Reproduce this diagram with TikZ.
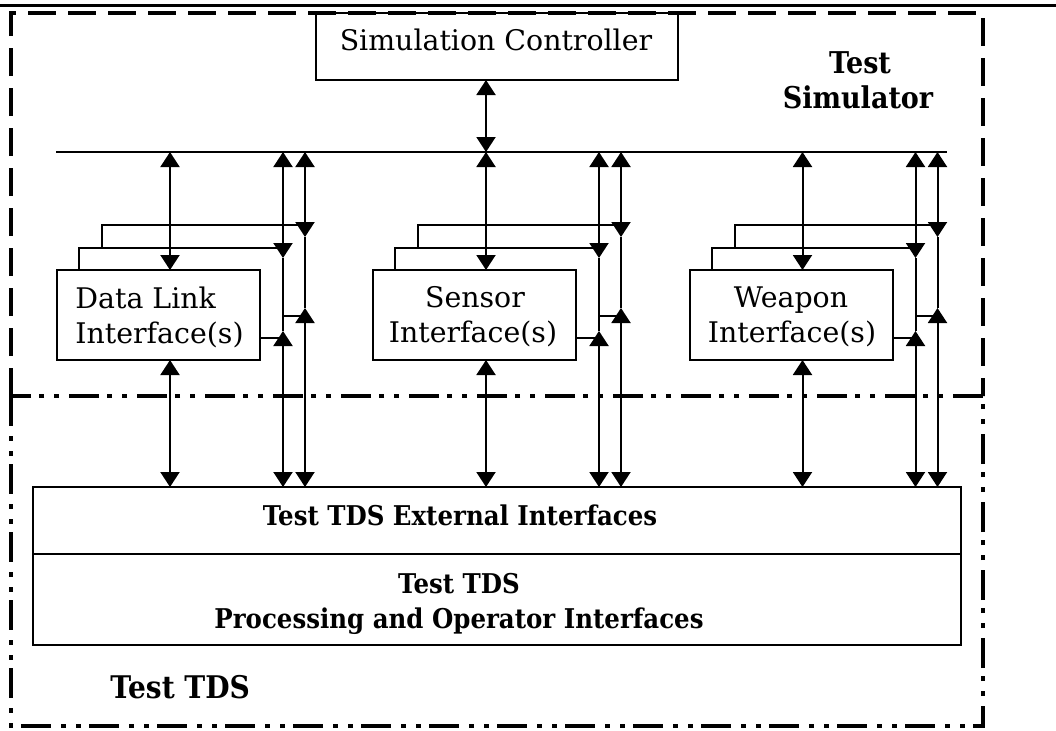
\documentclass[tikz,border=0pt]{standalone}
\usepackage{fontspec}
\setmainfont{DejaVu Serif}
\newfontfamily\boldnarrow[FakeStretch=0.9]{DejaVu Serif}
\usetikzlibrary{arrows.meta}
\begin{document}
\begin{tikzpicture}[x=0.5pt,y=-0.5pt,
  box/.style={draw, line width=1pt, inner sep=0pt, outer sep=0pt},
  txt/.style={font=\fontsize{14.2}{18}\selectfont, inner sep=0pt},
  btxt/.style={font=\boldnarrow\fontsize{13.6}{18}\selectfont\bfseries, inner sep=0pt},
  lbl/.style={font=\boldnarrow\fontsize{15}{18}\selectfont\bfseries, inner sep=0pt},
  arr/.style={line width=1pt, {Triangle[width=9.5pt,length=7.5pt]}-{Triangle[width=9.5pt,length=7.5pt]}},
  ln/.style={line width=1pt},
  simb/.style={line width=2pt, dash pattern=on 14pt off 6pt, line join=miter},
  tdsb/.style={line width=2pt, dash pattern=on 15pt off 5pt on 2.5pt off 5pt on 2.5pt off 4pt, line join=miter}]
\useasboundingbox (0,0) rectangle (1056,730);

% top rule
\coordinate (ruleL) at (0,5);
\coordinate (ruleR) at (1056,5);
\draw[line width=1.5pt] (ruleL) -- (ruleR);

% simulation controller
\node[box, minimum width=181pt, minimum height=33.5pt] (ctrl) at (497,46.5) {};
\node[txt, anchor=base] (ctrltxt) at (496,50) {Simulation Controller};

% outer regions
\coordinate (simBL) at (11,396);
\coordinate (simTL) at (11,13);
\coordinate (simTR) at (983,13);
\coordinate (simBR) at (983,396);
\coordinate (tdsBR) at (983,726);
\draw[simb] (simBL) -- (simTL) -- (simTR) -- (simBR);
\draw[tdsb] (simBL) rectangle (tdsBR);

\node[lbl, anchor=base] (ts1) at (860,73) {Test};
\node[lbl, anchor=base] (ts2) at (858,108) {Simulator};
\node[lbl, font=\boldnarrow\fontsize{15.6}{18}\selectfont\bfseries, anchor=base west] (tdslbl) at (110,698) {Test TDS};

% bus
\coordinate (busL) at (56,152);
\coordinate (busR) at (947,152);
\coordinate (cx) at (486,0);
\draw[ln] (busL) -- (busR);
\draw[arr] (ctrl.south -| cx) -- (busL -| cx);

% TDS boxes
\node[box, minimum width=464pt, minimum height=33.5pt] (ext) at (497,520.5) {};
\node[box, minimum width=464pt, minimum height=45.5pt] (proc) at (497,599.5) {};
\node[btxt, anchor=base] (exttxt) at (460,525) {Test TDS External Interfaces};
\node[btxt, anchor=base] (proc1) at (459,593) {Test TDS};
\node[btxt, anchor=base] (proc2) at (459,628) {Processing and Operator Interfaces};

% interface groups
\foreach \i/\dx in {1/0, 2/316, 3/632.5} {
  \node[box, minimum width=101.5pt, minimum height=45pt] (front\i) at (158.5+\dx,315) {};
  \coordinate (m\i) at (170+\dx,0);
  \coordinate (a\i) at (283+\dx,0);
  \coordinate (b\i) at (305+\dx,0);
  \coordinate (ya) at (0,258);
  \coordinate (yb) at (0,331);
  \coordinate (yc) at (0,338);
  \coordinate (yd) at (0,237);
  \coordinate (ye) at (0,308);
  \coordinate (yf) at (0,316);
  \coordinate (yg) at (0,248);
  \coordinate (yh) at (0,225);
  % back frames
  \draw[ln] (79+\dx,270) -- (79+\dx,248) -- (a\i |- yg);
  \draw[ln] (102+\dx,248) -- (102+\dx,225) -- (b\i |- yh);
  % main arrows
  \draw[arr] (m\i |- busL) -- (m\i |- front\i.north);
  \draw[arr] (m\i |- front\i.south) -- (m\i |- ext.north);
  % first side line
  \draw[arr] (a\i |- busL) -- (a\i |- ya);
  \draw[ln] (a\i |- ya) -- (a\i |- yb);
  \draw[arr] (a\i |- yb) -- (a\i |- ext.north);
  \draw[ln] (front\i.east |- yc) -- (a\i |- yc);
  % second side line
  \draw[arr] (b\i |- busL) -- (b\i |- yd);
  \draw[ln] (b\i |- yd) -- (b\i |- ye);
  \draw[arr] (b\i |- ye) -- (b\i |- ext.north);
  \draw[ln] (a\i |- yf) -- (b\i |- yf);
}

\node[txt, anchor=base west] (dla) at (75,308) {Data Link};
\node[txt, anchor=base west] (dlb) at (75,343) {Interface(s)};
\node[txt, anchor=base] (sna) at (475,307) {Sensor};
\node[txt, anchor=base] (snb) at (473,342) {Interface(s)};
\node[txt, anchor=base] (wpa) at (791,307) {Weapon};
\node[txt, anchor=base] (wpb) at (792,342) {Interface(s)};
\end{tikzpicture}
\end{document}
